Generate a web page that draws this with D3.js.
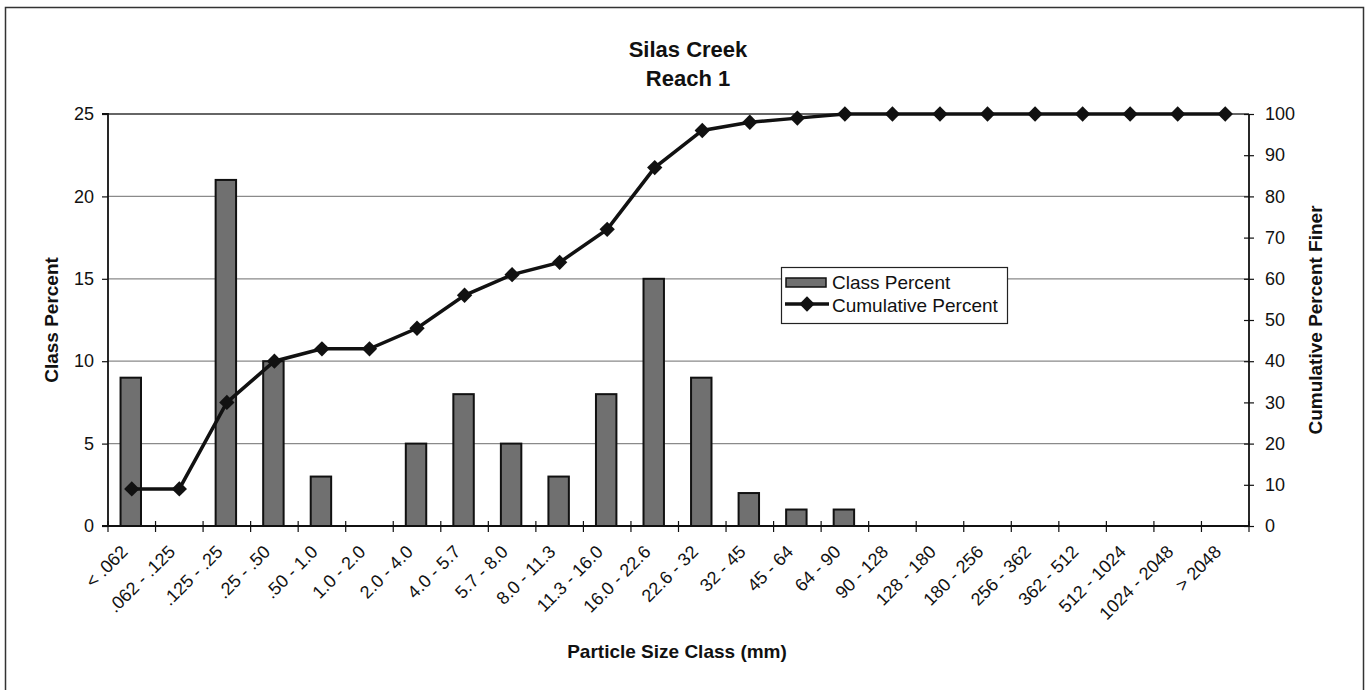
<!DOCTYPE html>
<html><head><meta charset="utf-8">
<script src="https://cdn.jsdelivr.net/npm/d3@7"></script>
<style>
html,body{margin:0;padding:0;background:#fff;}
text{font-family:"Liberation Sans",Arial,sans-serif;fill:#111;}
</style></head>
<body>
<svg id="chart" width="1372" height="690"></svg>
<script>
const categories = ["< .062", ".062 - .125", ".125 - .25", ".25 - .50", ".50 - 1.0", "1.0 - 2.0",
  "2.0 - 4.0", "4.0 - 5.7", "5.7 - 8.0", "8.0 - 11.3", "11.3 - 16.0", "16.0 - 22.6", "22.6 - 32",
  "32 - 45", "45 - 64", "64 - 90", "90 - 128", "128 - 180", "180 - 256", "256 - 362", "362 - 512",
  "512 - 1024", "1024 - 2048", "> 2048"];
const classPercent = [9, 0, 21, 10, 3, 0, 5, 8, 5, 3, 8, 15, 9, 2, 1, 1, 0, 0, 0, 0, 0, 0, 0, 0];
const cumulativePercent = [9, 9, 30, 40, 43, 43, 48, 56, 61, 64, 72, 87, 96, 98, 99, 100, 100, 100, 100, 100, 100, 100, 100, 100];
const leftTicks = [0, 5, 10, 15, 20, 25];
const rightTicks = [0, 10, 20, 30, 40, 50, 60, 70, 80, 90, 100];
const titleLines = ["Silas Creek", "Reach 1"];

const svg = d3.select("#chart");
const L = 108, R = 1249, T = 114, B = 526;

// outer frame
svg.append("rect").attr("x", 5.5).attr("y", 7.5).attr("width", 1358).attr("height", 700)
  .attr("fill", "none").attr("stroke", "#333").attr("stroke-width", 1.5);

const x = d3.scaleBand().domain(categories).range([L, R]).padding(0);
const yL = d3.scaleLinear().domain([0, 25]).range([B, T]);
const yR = d3.scaleLinear().domain([0, 100]).range([B, T]);
const bw = x.bandwidth();
const cx = c => x(c) + bw / 2;

// gridlines
svg.append("g").selectAll("line").data(leftTicks.filter(v => v > 0 && v < 25)).join("line")
  .attr("x1", L).attr("x2", R).attr("y1", d => yL(d)).attr("y2", d => yL(d))
  .attr("stroke", "#8a8a8a").attr("stroke-width", 1.2);
// top border
svg.append("line").attr("x1", L).attr("x2", R).attr("y1", T).attr("y2", T)
  .attr("stroke", "#333").attr("stroke-width", 1.5);

// bars
const barW = bw * 0.43;
svg.append("g").selectAll("rect").data(categories.map((c, i) => ({c, v: classPercent[i]})).filter(d => d.v > 0))
  .join("rect")
  .attr("x", d => cx(d.c) - barW / 2 - 1)
  .attr("y", d => yL(d.v))
  .attr("width", barW)
  .attr("height", d => B - yL(d.v))
  .attr("fill", "#707070").attr("stroke", "#111").attr("stroke-width", 2);

// axes
const axL = svg.append("g").attr("transform", `translate(${L},0)`)
  .call(d3.axisLeft(yL).tickValues(leftTicks).tickSize(6).tickPadding(8));
const axR = svg.append("g").attr("transform", `translate(${R},0)`)
  .call(d3.axisRight(yR).tickValues(rightTicks).tickSize(5).tickPadding(11));
axR.selectAll(".tick line").attr("x1", -5).attr("x2", 5);
const axB = svg.append("g").attr("transform", `translate(0,${B})`)
  .call(d3.axisBottom(x).tickSize(0).tickPadding(0));
axB.selectAll(".tick text").remove();
// boundary ticks
const bounds = categories.map(c => x(c)).concat([R]);
axB.append("g").selectAll("line").data(bounds).join("line")
  .attr("x1", d => d).attr("x2", d => d).attr("y1", -5).attr("y2", 6)
  .attr("stroke", "#111").attr("stroke-width", 1.2);
[axL, axR, axB].forEach(a => {
  a.selectAll(".domain").attr("stroke", "#111").attr("stroke-width", 1.8);
  a.selectAll(".tick line").attr("stroke", "#111").attr("stroke-width", 1.2);
  a.selectAll(".tick text").attr("font-size", 18).attr("fill", "#111")
    .attr("font-family", '"Liberation Sans",Arial,sans-serif');
});
axL.select(".domain").attr("d", `M-6,${B}H0V${T}H-6`);
axR.select(".domain").attr("d", `M0,${B}V${T}`);
axB.select(".domain").attr("d", `M${L},0H${R}`);

// rotated x labels
svg.append("g").selectAll("text").data(categories).join("text")
  .attr("transform", c => `translate(${cx(c) - 3},${553}) rotate(-45)`)
  .attr("text-anchor", "end").attr("font-size", 18).text(c => c);

// cumulative line
const line = d3.line().x((d, i) => cx(categories[i])).y(d => yR(d));
svg.append("path").datum(cumulativePercent).attr("d", line)
  .attr("fill", "none").attr("stroke", "#111").attr("stroke-width", 3.5);
const diamond = d3.symbol().type(d3.symbolDiamond2).size(150);
svg.append("g").selectAll("path").data(cumulativePercent).join("path")
  .attr("transform", (d, i) => `translate(${cx(categories[i])},${yR(d)})`)
  .attr("d", diamond).attr("fill", "#111");

// titles
svg.append("g").selectAll("text").data(titleLines).join("text")
  .attr("x", 688).attr("y", (d, i) => 57 + i * 29).attr("text-anchor", "middle")
  .attr("font-size", 22).attr("font-weight", "bold").text(d => d);
svg.append("text").attr("transform", `translate(58,320) rotate(-90)`).attr("text-anchor", "middle")
  .attr("font-size", 19).attr("font-weight", "bold").text("Class Percent");
svg.append("text").attr("transform", `translate(1322,320) rotate(-90)`).attr("text-anchor", "middle")
  .attr("font-size", 19).attr("font-weight", "bold").text("Cumulative Percent Finer");
svg.append("text").attr("x", 677).attr("y", 658).attr("text-anchor", "middle")
  .attr("font-size", 19).attr("font-weight", "bold").text("Particle Size Class (mm)");

// legend
const lg = svg.append("g");
lg.append("rect").attr("x", 781.5).attr("y", 267.5).attr("width", 226).attr("height", 56)
  .attr("fill", "#fff").attr("stroke", "#222").attr("stroke-width", 1.2);
lg.append("rect").attr("x", 786).attr("y", 278).attr("width", 40).attr("height", 9)
  .attr("fill", "#707070").attr("stroke", "#111").attr("stroke-width", 1.5);
lg.append("text").attr("x", 832).attr("y", 289).attr("font-size", 19).text("Class Percent");
lg.append("line").attr("x1", 785).attr("x2", 829).attr("y1", 304).attr("y2", 304)
  .attr("stroke", "#111").attr("stroke-width", 3.5);
lg.append("path").attr("transform", "translate(807,304)").attr("d", diamond).attr("fill", "#111");
lg.append("text").attr("x", 832).attr("y", 312).attr("font-size", 19).text("Cumulative Percent");
</script>
</body></html>
